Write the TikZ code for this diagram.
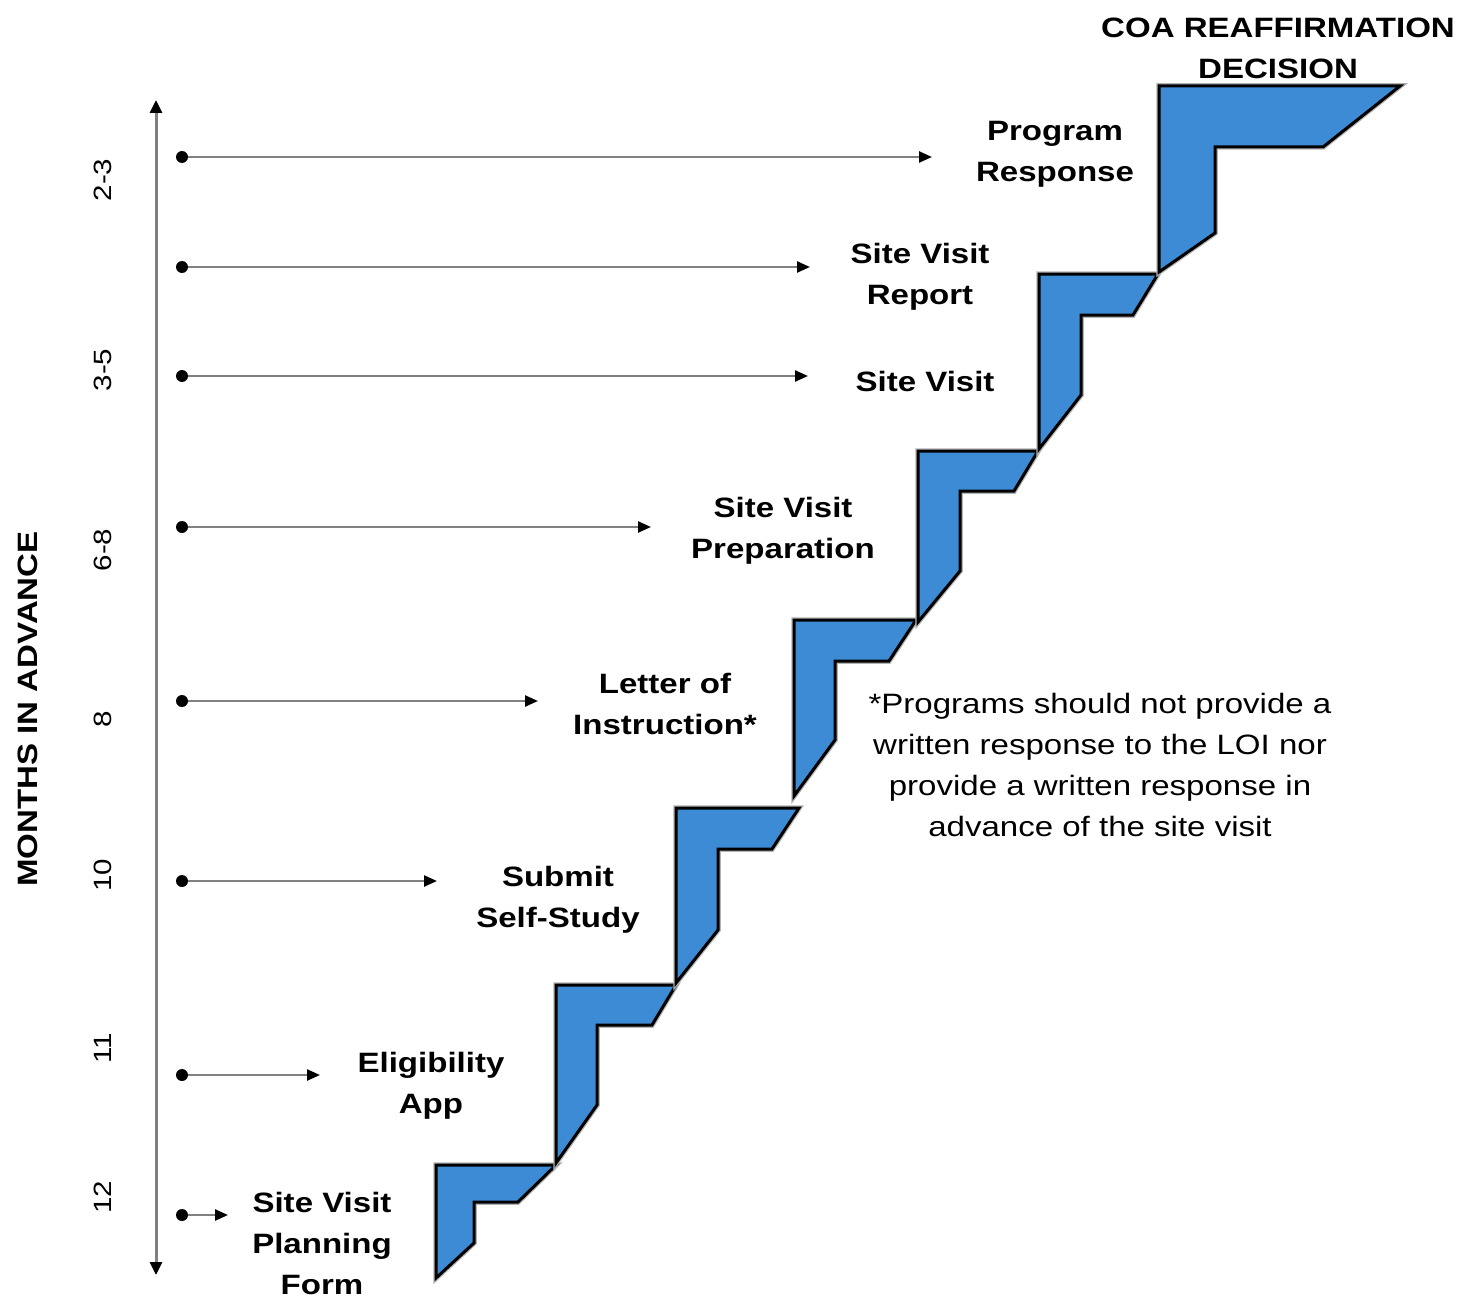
\documentclass[tikz,border=0pt]{standalone}
\usepackage{fontspec}
\setmainfont[FakeStretch=1.18]{Liberation Sans}
\usetikzlibrary{arrows.meta}
\definecolor{stairblue}{RGB}{61,139,212}
\definecolor{linegray}{RGB}{128,128,128}
\tikzset{
  stair/.style={fill=stairblue, draw=black, line width=3pt, line join=miter,
    preaction={draw=black!30, line width=5.5pt}},
  lbl/.style={align=center, font=\fontsize{28}{41}\selectfont\bfseries},
  note/.style={align=center, font=\fontsize{28}{41}\selectfont},
  month/.style={rotate=90, font=\fontsize{25}{30}\selectfont},
  dot/.style={circle, fill=black, inner sep=0pt, minimum size=12pt},
  timeline/.style={draw=linegray, line width=2.4pt, -{Triangle[black,length=13pt,width=11pt]}},
  axis/.style={draw=linegray, line width=3pt,
    {Triangle[black,length=13pt,width=12pt]}-{Triangle[black,length=13pt,width=12pt]}}
}

\begin{document}
\begin{tikzpicture}[x=1pt,y=-1pt]
\useasboundingbox (0,0) rectangle (1478,1300);

% staircase
\filldraw[stair] (436,1165) -- (556,1165) -- (518,1202) -- (474,1202) -- (474,1243) -- (436,1278) -- cycle;
\filldraw[stair] (556,985) -- (676,985) -- (652,1025) -- (597,1025) -- (597,1105) -- (556,1163) -- cycle;
\filldraw[stair] (676,808) -- (799,808) -- (772,849) -- (718,849) -- (718,930) -- (676,983) -- cycle;
\filldraw[stair] (794,620) -- (916,620) -- (889,661) -- (835,661) -- (835,740) -- (794,796) -- cycle;
\filldraw[stair] (918,451) -- (1038,451) -- (1014,491) -- (960,491) -- (960,571) -- (918,622) -- cycle;
\filldraw[stair] (1039,274) -- (1158,274) -- (1133,315) -- (1081,315) -- (1081,395) -- (1039,449) -- cycle;
\filldraw[stair] (1159,86) -- (1400,86) -- (1323,147) -- (1215,147) -- (1215,233) -- (1159,272) -- cycle;

% labels
\draw (1278,48) node[lbl] (Decision) {COA REAFFIRMATION\\DECISION};
\draw (1055,154) node[lbl] (Response) {Program\\Response};
\draw (920,277) node[lbl] (Report) {Site Visit\\Report};
\draw (925,381) node[lbl] (Visit) {Site Visit};
\draw (783,531) node[lbl] (Prep) {Site Visit\\Preparation};
\draw (665,704) node[lbl] (Letter) {Letter of\\Instruction*};
\draw (1100,765) node[note] (Note) {*Programs should not provide a\\written response to the LOI nor\\provide a written response in\\advance of the site visit};
\draw (558,900) node[lbl] (SelfStudy) {Submit\\Self-Study};
\draw (431,1086) node[lbl] (Elig) {Eligibility\\App};
\draw (322,1243) node[lbl] (Planning) {Site Visit\\Planning\\Form};

% months axis
\coordinate (AxTop) at (156,100);
\coordinate (AxBot) at (156,1275);
\draw[axis] (AxTop) -- (AxBot);
\draw (28,709) node[rotate=90, font=\fontsize{28}{34}\selectfont\bfseries] (Months) {MONTHS IN ADVANCE};
\draw (103,180) node[month] (M23) {2-3};
\draw (103,370) node[month] (M35) {3-5};
\draw (103,550) node[month] (M68) {6-8};
\draw (103,719) node[month] (M8) {8};
\draw (103,875) node[month] (M10) {10};
\draw (103,1048) node[month] (M11) {11};
\draw (103,1197) node[month] (M12) {12};

% timeline arrows
\draw (182,157) node[dot] (ResponseDot) {};
\draw (182,267) node[dot] (ReportDot) {};
\draw (182,376) node[dot] (VisitDot) {};
\draw (182,527) node[dot] (PrepDot) {};
\draw (182,701) node[dot] (LetterDot) {};
\draw (182,881) node[dot] (SelfStudyDot) {};
\draw (182,1075) node[dot] (EligDot) {};
\draw (182,1215) node[dot] (PlanningDot) {};
\coordinate (ResponseEnd) at (932,157);
\coordinate (ReportEnd) at (810,267);
\coordinate (VisitEnd) at (808,376);
\coordinate (PrepEnd) at (651,527);
\coordinate (LetterEnd) at (538,701);
\coordinate (SelfStudyEnd) at (437,881);
\coordinate (EligEnd) at (320,1075);
\coordinate (PlanningEnd) at (228,1215);

\draw[timeline] (ResponseDot) -- (ResponseEnd);
\draw[timeline] (ReportDot) -- (ReportEnd);
\draw[timeline] (VisitDot) -- (VisitEnd);
\draw[timeline] (PrepDot) -- (PrepEnd);
\draw[timeline] (LetterDot) -- (LetterEnd);
\draw[timeline] (SelfStudyDot) -- (SelfStudyEnd);
\draw[timeline] (EligDot) -- (EligEnd);
\draw[timeline] (PlanningDot) -- (PlanningEnd);
\end{tikzpicture}
\end{document}
